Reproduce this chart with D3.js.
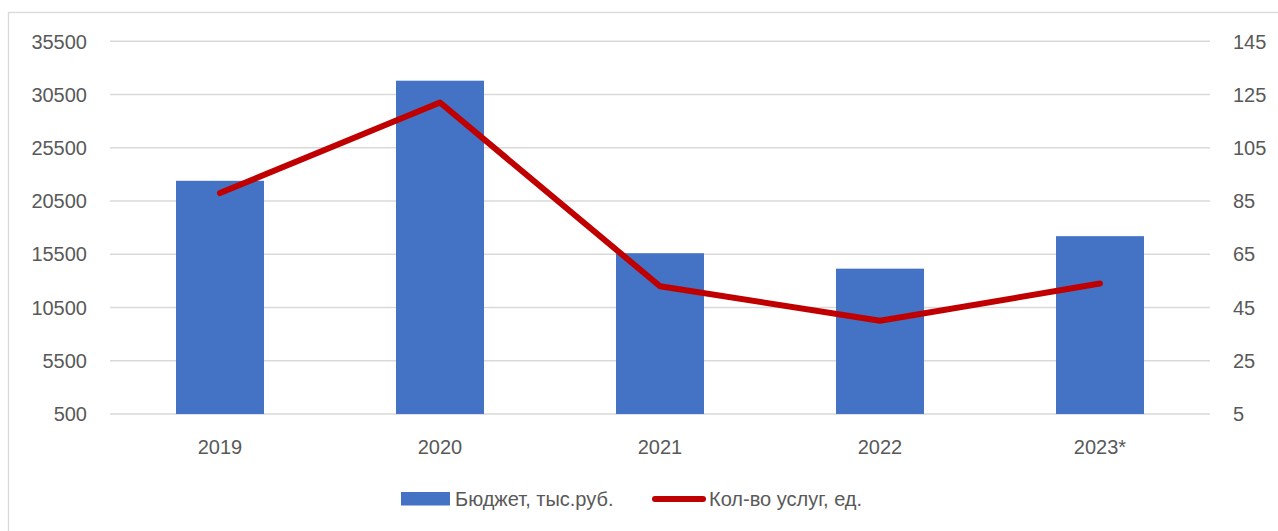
<!DOCTYPE html>
<html>
<head>
<meta charset="utf-8">
<script src="https://cdn.jsdelivr.net/npm/d3@7"></script>
<style>
  body { margin: 0; background: #fff; }
  text { font-family: "Liberation Sans", Arial, sans-serif; fill: #595959; }
</style>
</head>
<body>
<div id="chart"></div>
<script>
// data
var years = ["2019", "2020", "2021", "2022", "2023*"];
var budget = [22400, 31800, 15600, 14150, 17200];
var services = [88, 122, 53, 40, 54];
var leftTicks = [500, 5500, 10500, 15500, 20500, 25500, 30500, 35500];
var rightTicks = [5, 25, 45, 65, 85, 105, 125, 145];
var legendNames = ["Бюджет, тыс.руб.", "Кол-во услуг, ед."];

var width = 1278, height = 531;
var plotLeft = 110, plotRight = 1210, plotTop = 41.3, plotBottom = 414;

var svg = d3.select("#chart").append("svg")
    .attr("width", width)
    .attr("height", height);

// outer frame
svg.append("rect")
    .attr("x", 8.5).attr("y", 12.5)
    .attr("width", 1300).attr("height", 600)
    .attr("fill", "none")
    .attr("stroke", "#d9d9d9")
    .attr("stroke-width", 1.3);

var x = d3.scaleBand()
    .domain(years)
    .range([plotLeft, plotRight])
    .paddingInner(0.6)
    .paddingOuter(0.3);

var yLeft = d3.scaleLinear().domain([500, 35500]).range([plotBottom, plotTop]);
var yRight = d3.scaleLinear().domain([5, 145]).range([plotBottom, plotTop]);

// gridlines
svg.append("g")
    .selectAll("line")
    .data(leftTicks)
    .enter().append("line")
    .attr("x1", plotLeft).attr("x2", plotRight)
    .attr("y1", function (d) { return yLeft(d); })
    .attr("y2", function (d) { return yLeft(d); })
    .attr("stroke", "#d9d9d9")
    .attr("stroke-width", 1.4);

// left axis labels
svg.append("g")
    .selectAll("text")
    .data(leftTicks)
    .enter().append("text")
    .attr("x", 87)
    .attr("y", function (d) { return yLeft(d); })
    .attr("dy", "0.36em")
    .attr("text-anchor", "end")
    .style("font-size", "20px")
    .text(function (d) { return d; });

// right axis labels
svg.append("g")
    .selectAll("text")
    .data(rightTicks)
    .enter().append("text")
    .attr("x", 1233)
    .attr("y", function (d) { return yRight(d); })
    .attr("dy", "0.36em")
    .attr("text-anchor", "start")
    .style("font-size", "20px")
    .text(function (d) { return d; });

// bars
svg.append("g")
    .selectAll("rect")
    .data(budget)
    .enter().append("rect")
    .attr("x", function (d, i) { return x(years[i]); })
    .attr("width", x.bandwidth())
    .attr("y", function (d) { return yLeft(d); })
    .attr("height", function (d) { return yLeft(500) - yLeft(d); })
    .attr("fill", "#4472c4");

// line
var line = d3.line()
    .x(function (d, i) { return x(years[i]) + x.bandwidth() / 2; })
    .y(function (d) { return yRight(d); });

svg.append("path")
    .datum(services)
    .attr("d", line)
    .attr("fill", "none")
    .attr("stroke", "#c00000")
    .attr("stroke-width", 6)
    .attr("stroke-linejoin", "round")
    .attr("stroke-linecap", "round");

// category labels
svg.append("g")
    .selectAll("text")
    .data(years)
    .enter().append("text")
    .attr("x", function (d) { return x(d) + x.bandwidth() / 2; })
    .attr("y", 447)
    .attr("dy", "0.36em")
    .attr("text-anchor", "middle")
    .style("font-size", "20px")
    .text(function (d) { return d; });

// legend
var lg = svg.append("g");
lg.append("rect")
    .attr("x", 401).attr("y", 492)
    .attr("width", 49).attr("height", 13.5)
    .attr("fill", "#4472c4");
lg.append("text")
    .attr("x", 455).attr("y", 499)
    .attr("dy", "0.36em")
    .style("font-size", "20px")
    .text(legendNames[0]);
lg.append("line")
    .attr("x1", 655).attr("x2", 703)
    .attr("y1", 499).attr("y2", 499)
    .attr("stroke", "#c00000")
    .attr("stroke-width", 6)
    .attr("stroke-linecap", "round");
lg.append("text")
    .attr("x", 709).attr("y", 499)
    .attr("dy", "0.36em")
    .style("font-size", "20px")
    .text(legendNames[1]);
</script>
</body>
</html>
